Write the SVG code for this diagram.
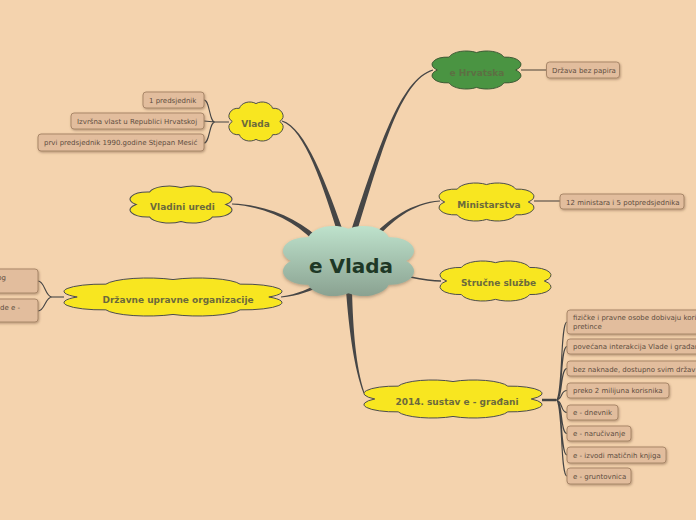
<svg xmlns="http://www.w3.org/2000/svg" width="696" height="520" viewBox="0 0 696 520">
<defs>
<style>
.br{fill:#464646}
.ln{fill:none;stroke:#454545;stroke-width:1.1}
.cl{stroke:#4d4d4d;stroke-width:1}
.yl{fill:#F8E620}
.nt{font-family:"DejaVu Sans",Verdana,sans-serif;font-weight:bold;font-size:9px;fill:#6C6A3C;text-anchor:middle}
.lb{fill:#E2BD9D;stroke:#A98769;stroke-width:1;filter:url(#sh)}
.lt{font-family:"DejaVu Sans",Verdana,sans-serif;font-size:7px;fill:#5E4D3F}
</style>
<filter id="sh" x="-10%" y="-30%" width="120%" height="170%"><feDropShadow dx="0.8" dy="1.2" stdDeviation="0.8" flood-color="#6b4a30" flood-opacity="0.45"/></filter>
<filter id="cs" x="-10%" y="-10%" width="120%" height="125%"><feDropShadow dx="0" dy="1.5" stdDeviation="1.5" flood-color="#5a4a3a" flood-opacity="0.4"/></filter>
<linearGradient id="cg" x1="0" y1="0" x2="0" y2="1"><stop offset="0" stop-color="#BEE2CC"/><stop offset="1" stop-color="#8AA291"/></linearGradient>
<symbol id="cloud" viewBox="4.5 8.6 91 82.8" preserveAspectRatio="none" overflow="visible">
<path vector-effect="non-scaling-stroke" d="M10,50 A16 16 0 0 1 22,22 A18 18 0 0 1 50,12 A18 18 0 0 1 78,22 A16 16 0 0 1 90,50 A16 16 0 0 1 78,78 A18 18 0 0 1 50,88 A18 18 0 0 1 22,78 A16 16 0 0 1 10,50 Z"/>
</symbol>
</defs>
<rect x="0" y="0" width="696" height="520" fill="#F4D3AE"/>

<g id="connectors">
<path class="br" d="M345.85,239.07 C326.9,184.38 305.29,127.04 282.15,120.52 L281.85,121.48 C304.71,128.96 323.1,185.62 340.15,240.93 Z"/>
<path class="br" d="M354.86,238.91 C381.91,150.61 400.29,80.96 433.15,70.48 L432.85,69.52 C399.71,79.04 378.09,149.39 349.14,237.09 Z"/>
<path class="br" d="M373.86,241.67 C391.11,221 412.06,203.8 440.04,201.5 L439.96,200.5 C411.94,202.2 388.89,219 370.14,238.33 Z"/>
<path fill="none" stroke="#464646" stroke-width="1.6" d="M405,276 C420,279 428,281 441,281"/>
<path class="br" d="M324.17,242.93 C301.45,220.62 270.05,205 232.03,203.5 L231.97,204.5 C269.95,207 298.55,223.38 319.83,247.07 Z"/>
<path class="br" d="M324.06,280.24 C309.29,288.68 297.91,294.21 280.94,296.5 L281.06,297.5 C298.09,295.79 310.71,291.32 325.94,283.76 Z"/>
<path class="br" d="M346,290.15 C349,330.1 354.06,368.34 363.53,393.17 L364.47,392.83 C355.94,367.66 353,329.9 352,289.85 Z"/>
<!-- Vlada leaves -->
<path class="ln" d="M229,122 L215,122 M215,122 C209,122 210,100 204,100 M215,122 L204,121 M215,122 C209,122 210,143 204,143"/>
<!-- Drzavne leaves -->
<path class="ln" stroke-width="1.4" d="M64,297 L52,297"/>
<path class="ln" d="M52,297 C45,297 45,281 38,281 M52,297 C45,297 45,311 38,311"/>
<!-- e Hrvatska leaf -->
<path fill="none" stroke="#9F8A72" stroke-width="2" d="M521,70 L547,70"/>
<!-- Ministarstva leaf -->
<path fill="none" stroke="#5E554C" stroke-width="1.2" d="M534,201 L560,201"/>
<!-- 2014 leaves -->
<path fill="none" stroke="#454545" stroke-width="2.5" d="M542,400 L556,400"/>
<path class="ln" d="M556,400 C563,400 560,322 567,322 M556,400 C563,400 560,346.5 567,346.5 M556,400 C563,400 560,368.5 567,368.5 M556,400 C563,400 560,390.5 567,390.5 M556,400 C563,400 560,412.5 567,412.5 M556,400 C563,400 560,433.5 567,433.5 M556,400 C563,400 560,455 567,455 M556,400 C563,400 560,476 567,476"/>
</g>

<g id="center">
<use href="#cloud" x="283" y="226" width="131" height="70" fill="url(#cg)" filter="url(#cs)"/>
<text x="351" y="273" font-family="DejaVu Sans,Verdana,sans-serif" font-weight="bold" font-size="20" fill="#1E3826" text-anchor="middle">e Vlada</text>
</g>

<g id="n-vlada">
<use href="#cloud" class="yl cl" x="229" y="102" width="54" height="39"/>
<text class="nt" x="255.5" y="127">Vlada</text>
</g>
<g id="n-vladini">
<use href="#cloud" class="yl cl" x="130" y="186" width="102" height="37"/>
<text class="nt" x="182.5" y="210">Vladini uredi</text>
</g>
<g id="n-drzavne">
<use href="#cloud" class="yl cl" x="64" y="278" width="218" height="38"/>
<text class="nt" x="178" y="303">Državne upravne organizacije</text>
</g>
<g id="n-ehrvatska">
<use href="#cloud" x="432" y="51" width="89" height="38" fill="#4A9442" stroke="#3F5A35" stroke-width="1"/>
<text class="nt" x="477" y="76" style="fill:#5D6F43">e Hrvatska</text>
</g>
<g id="n-ministarstva">
<use href="#cloud" class="yl cl" x="439" y="183" width="95" height="38"/>
<text class="nt" x="489" y="208">Ministarstva</text>
</g>
<g id="n-strucne">
<use href="#cloud" class="yl cl" x="440" y="261" width="111" height="40"/>
<text class="nt" x="498.5" y="286">Stručne službe</text>
</g>
<g id="n-2014">
<use href="#cloud" class="yl cl" x="364" y="380" width="178" height="38"/>
<text class="nt" x="457" y="405">2014. sustav e - građani</text>
</g>

<g id="l-predsjednik">
<rect class="lb" x="143" y="92" width="61" height="16" rx="3"/>
<text class="lt" x="149" y="102.8">1 predsjednik</text>
</g>
<g id="l-izvrsna">
<rect class="lb" x="71" y="113" width="133" height="16" rx="3"/>
<text class="lt" x="77" y="123.8">Izvršna vlast u Republici Hrvatskoj</text>
</g>
<g id="l-prvi">
<rect class="lb" x="38" y="134" width="166" height="17" rx="3"/>
<text class="lt" x="44" y="145.3">prvi predsjednik 1990.godine Stjepan Mesić</text>
</g>
<g id="l-og">
<rect class="lb" x="-20" y="269" width="58" height="24" rx="3"/>
<text class="lt" x="6" y="279.5" text-anchor="end">og</text>
</g>
<g id="l-dee">
<rect class="lb" x="-20" y="299" width="58" height="23" rx="3"/>
<text class="lt" x="20" y="309.5" text-anchor="end">de e -</text>
</g>
<g id="l-drzava">
<rect class="lb" x="546.5" y="62" width="73" height="16" rx="3"/>
<text class="lt" x="552" y="73">Država bez papira</text>
</g>
<g id="l-ministara">
<rect class="lb" x="560" y="194" width="124" height="15" rx="3"/>
<text class="lt" x="566" y="204.5">12 ministara i 5 potpredsjednika</text>
</g>
<g id="l-fizicke">
<rect class="lb" x="567" y="310" width="140" height="24" rx="3"/>
<text class="lt" x="573" y="319.5">fizičke i pravne osobe dobivaju kori</text>
<text class="lt" x="573" y="328.5">pretince</text>
</g>
<g id="l-povecana">
<rect class="lb" x="567" y="339" width="140" height="15" rx="3"/>
<text class="lt" x="573" y="349">povećana interakcija Vlade i građan</text>
</g>
<g id="l-bez">
<rect class="lb" x="567" y="361" width="140" height="15" rx="3"/>
<text class="lt" x="573" y="371.5">bez naknade, dostupno svim držav</text>
</g>
<g id="l-preko">
<rect class="lb" x="567" y="383" width="102" height="15" rx="3"/>
<text class="lt" x="573" y="393">preko 2 milijuna korisnika</text>
</g>
<g id="l-dnevnik">
<rect class="lb" x="567" y="405" width="51" height="15" rx="3"/>
<text class="lt" x="573" y="415">e - dnevnik</text>
</g>
<g id="l-narucivanje">
<rect class="lb" x="567" y="426" width="64" height="15" rx="3"/>
<text class="lt" x="573" y="436">e - naručivanje</text>
</g>
<g id="l-izvodi">
<rect class="lb" x="567" y="447" width="99" height="16" rx="3"/>
<text class="lt" x="573" y="457.5">e - izvodi matičnih knjiga</text>
</g>
<g id="l-gruntovnica">
<rect class="lb" x="567" y="468" width="64" height="16" rx="3"/>
<text class="lt" x="573" y="478.5">e - gruntovnica</text>
</g>
</svg>
